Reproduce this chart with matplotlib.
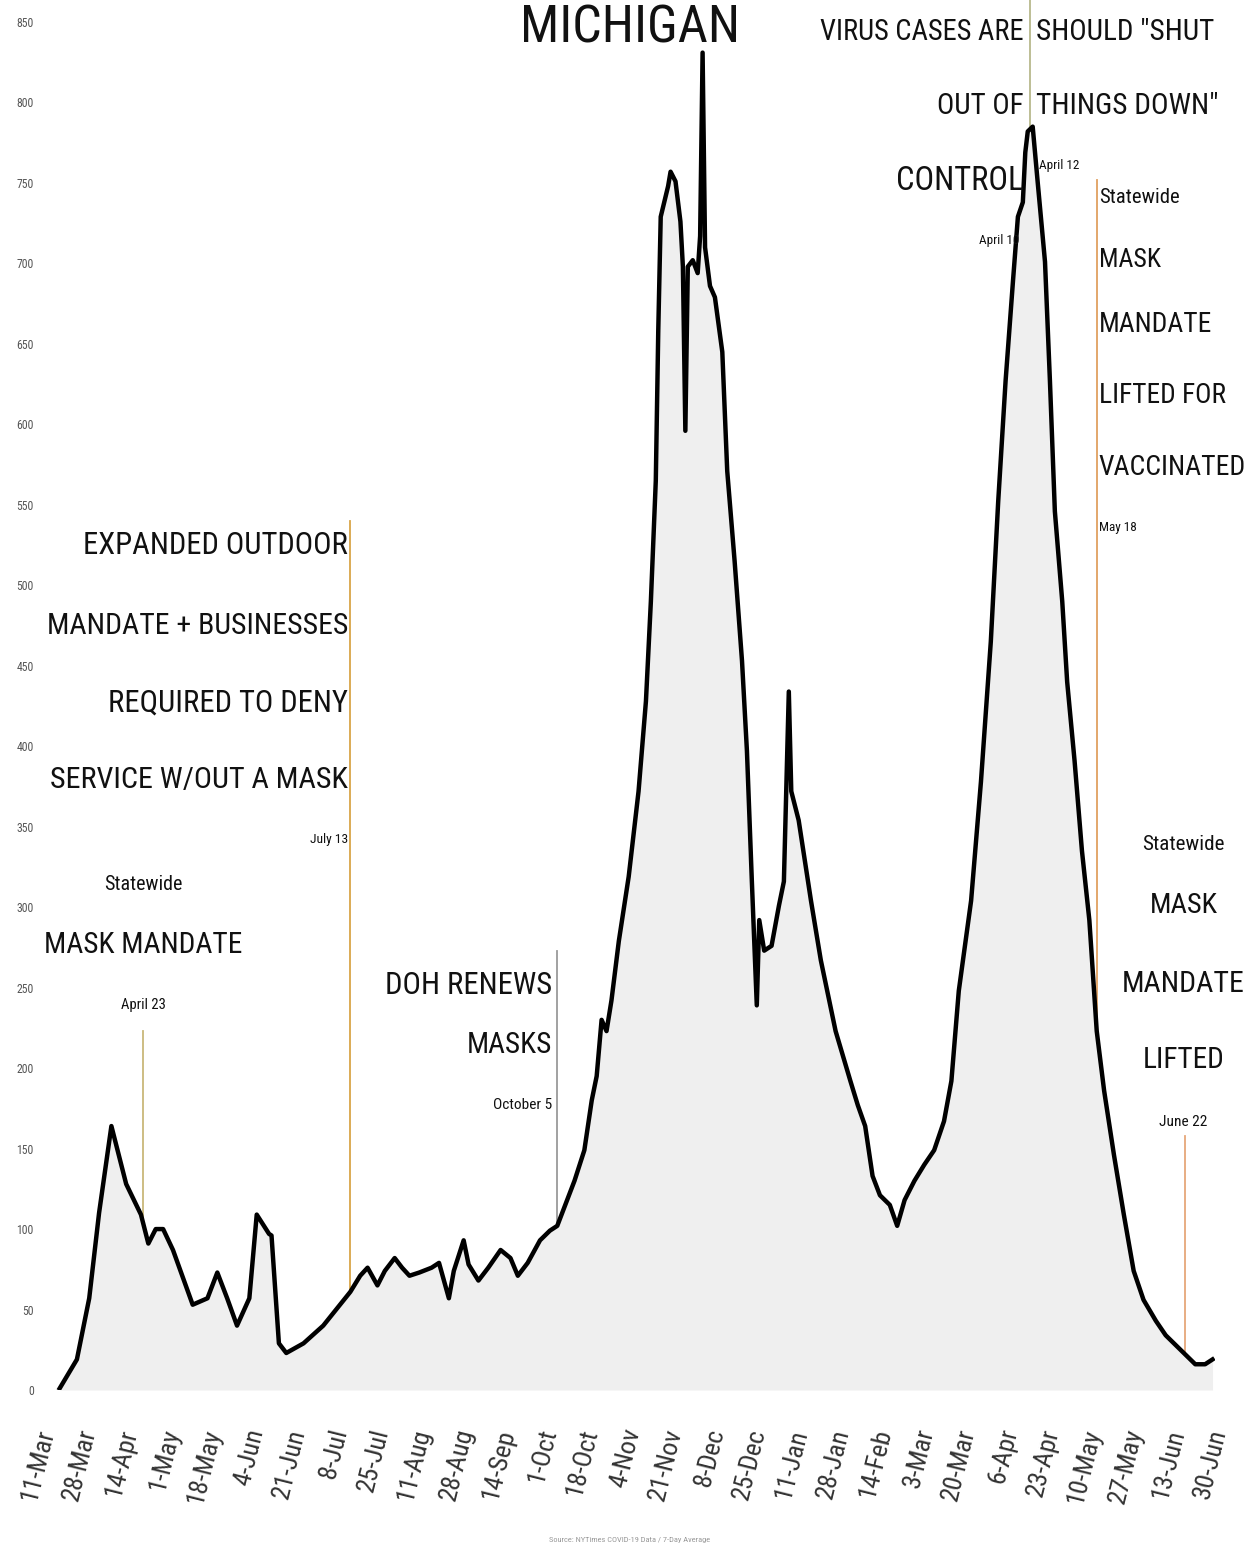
import numpy as np
import pandas as pd
import matplotlib
matplotlib.use('Agg')
import matplotlib.pyplot as plt
import matplotlib.dates as mdates
from matplotlib.transforms import offset_copy

plt.rcParams['font.family'] = ['Roboto Condensed', 'Liberation Sans', 'DejaVu Sans']

# daily cases (7-day average, per day)
dates = [
    '2020-03-21', '2020-03-28', '2020-04-02', '2020-04-06', '2020-04-11', '2020-04-17', '2020-04-23', '2020-04-26', '2020-04-29', '2020-05-02',
    '2020-05-06', '2020-05-14', '2020-05-20', '2020-05-24', '2020-05-28', '2020-06-01', '2020-06-06', '2020-06-09', '2020-06-14', '2020-06-15',
    '2020-06-18', '2020-06-21', '2020-06-28', '2020-07-06', '2020-07-17', '2020-07-21', '2020-07-24', '2020-07-28', '2020-07-31', '2020-08-04',
    '2020-08-07', '2020-08-10', '2020-08-14', '2020-08-19', '2020-08-22', '2020-08-26', '2020-08-28', '2020-09-01', '2020-09-03', '2020-09-07',
    '2020-09-11', '2020-09-16', '2020-09-20', '2020-09-23', '2020-09-27', '2020-10-02', '2020-10-06', '2020-10-09', '2020-10-16', '2020-10-20',
    '2020-10-23', '2020-10-25', '2020-10-27', '2020-10-29', '2020-10-31', '2020-11-03', '2020-11-07', '2020-11-11', '2020-11-14', '2020-11-16',
    '2020-11-18', '2020-11-19', '2020-11-20', '2020-11-23', '2020-11-24', '2020-11-26', '2020-11-28', '2020-11-29', '2020-11-30', '2020-12-01',
    '2020-12-03', '2020-12-05', '2020-12-06', '2020-12-07', '2020-12-08', '2020-12-10', '2020-12-12', '2020-12-15', '2020-12-17', '2020-12-20',
    '2020-12-23', '2020-12-25', '2020-12-27', '2020-12-29', '2020-12-30', '2021-01-01', '2021-01-04', '2021-01-07', '2021-01-09', '2021-01-11',
    '2021-01-12', '2021-01-15', '2021-01-20', '2021-01-24', '2021-01-30', '2021-02-05', '2021-02-08', '2021-02-11', '2021-02-14', '2021-02-17',
    '2021-02-21', '2021-02-24', '2021-02-27', '2021-03-03', '2021-03-07', '2021-03-11', '2021-03-15', '2021-03-18', '2021-03-21', '2021-03-26',
    '2021-03-30', '2021-04-03', '2021-04-06', '2021-04-09', '2021-04-12', '2021-04-14', '2021-04-16', '2021-04-17', '2021-04-18', '2021-04-20',
    '2021-04-22', '2021-04-25', '2021-04-27', '2021-04-29', '2021-05-02', '2021-05-04', '2021-05-07', '2021-05-10', '2021-05-13', '2021-05-16',
    '2021-05-19', '2021-05-23', '2021-05-27', '2021-05-31', '2021-06-04', '2021-06-09', '2021-06-13', '2021-06-17', '2021-06-21', '2021-06-25',
    '2021-06-29', '2021-07-02',
]
cases = [
    1, 19, 57, 110, 164, 128, 109, 91, 100, 100,
    87, 53, 57, 73, 57, 40, 57, 109, 97, 96,
    29, 23, 29, 40, 61, 71, 76, 65, 74, 82,
    76, 71, 73, 76, 79, 57, 74, 93, 78, 68,
    76, 87, 82, 71, 79, 93, 99, 102, 130, 149,
    180, 195, 230, 223, 242, 279, 319, 372, 428, 490,
    565, 658, 729, 748, 757, 751, 726, 698, 596, 698,
    702, 694, 717, 831, 710, 686, 679, 645, 571, 515,
    453, 397, 316, 239, 292, 273, 276, 301, 316, 434,
    372, 354, 304, 267, 223, 192, 177, 164, 133, 121,
    115, 102, 118, 130, 140, 149, 167, 192, 248, 304,
    378, 465, 552, 627, 689, 729, 738, 769, 782, 785,
    751, 701, 627, 546, 490, 440, 391, 335, 292, 223,
    186, 146, 109, 74, 56, 43, 34, 28, 22, 16,
    16, 19,
]

tick_dates = [
    '2020-03-11', '2020-03-28', '2020-04-14', '2020-05-01', '2020-05-18', '2020-06-04', '2020-06-21', '2020-07-08',
    '2020-07-25', '2020-08-11', '2020-08-28', '2020-09-14', '2020-10-01', '2020-10-18', '2020-11-04', '2020-11-21',
    '2020-12-08', '2020-12-25', '2021-01-11', '2021-01-28', '2021-02-14', '2021-03-03', '2021-03-20', '2021-04-06',
    '2021-04-23', '2021-05-10', '2021-05-27', '2021-06-13', '2021-06-30',
]
tick_labels = [
    '11-Mar', '28-Mar', '14-Apr', '1-May', '18-May', '4-Jun', '21-Jun', '8-Jul',
    '25-Jul', '11-Aug', '28-Aug', '14-Sep', '1-Oct', '18-Oct', '4-Nov', '21-Nov',
    '8-Dec', '25-Dec', '11-Jan', '28-Jan', '14-Feb', '3-Mar', '20-Mar', '6-Apr',
    '23-Apr', '10-May', '27-May', '13-Jun', '30-Jun',
]
y_ticks = [0, 50, 100, 150, 200, 250, 300, 350, 400, 450, 500, 550, 600, 650, 700, 750, 800, 850]

# where the event markers sit on the chart
event_dates = ['2020-04-24', '2020-07-17', '2020-10-09', '2021-04-19', '2021-05-16', '2021-06-21']

x = pd.to_datetime(dates)

fig = plt.figure(figsize=(12.51, 15.51), dpi=100)
ax = fig.add_axes([0.028, 0.1038, 0.9432, 0.882])

ax.fill_between(x, cases, color='#efefef', lw=0)
ax.plot(x, cases, color='black', lw=3.2)

ax.set_xlim(pd.Timestamp('2020-03-11'), pd.Timestamp('2021-07-03'))
ax.set_ylim(0, 850)
for s in ax.spines.values():
    s.set_visible(False)

ax.set_yticks(y_ticks)
ax.set_yticklabels([str(v) for v in y_ticks], fontsize=8.5, color='#555555')
ax.set_xticks(pd.to_datetime(tick_dates))
ax.set_xticklabels(tick_labels, rotation=76, ha='right', rotation_mode='anchor',
                   fontsize=19, color='#333333')
ax.tick_params(axis='x', length=0, pad=26)
ax.tick_params(axis='y', length=0, pad=1)

# event lines, from a fixed top down to the curve
xnum = mdates.date2num(x)
line_tops = [223, 540, 273, 870, 752, 158]
line_colors = ['#c9b77a', '#d9a548', '#9a9a9a', '#b7b98c', '#e0a060', '#e6a77a']
for d, top, c in zip(event_dates, line_tops, line_colors):
    xd = mdates.date2num(pd.Timestamp(d))
    bottom = np.interp(xd, xnum, cases)
    ax.plot([xd, xd], [bottom, top], color=c, lw=1.3, clip_on=False, zorder=1)

fitted = []


def block(d, rows, ha, dx):
    # rows: (text, y value, width in pixels on the picture)
    tr = offset_copy(ax.transData, fig=fig, x=dx, y=0, units='dots')
    xd = pd.Timestamp(d)
    for s, yv, w in rows:
        t = ax.text(xd, yv, s, ha=ha, va='center', fontsize=20, color='#111111',
                    transform=tr, clip_on=False)
        fitted.append((t, w))


block(event_dates[0], [('Statewide', 314, 78), ('MASK MANDATE', 276.5, 198),
                       ('April 23', 239, 45)], 'center', 0)
block(event_dates[1], [('EXPANDED OUTDOOR', 525, 265), ('MANDATE + BUSINESSES', 475, 300),
                       ('REQUIRED TO DENY', 427, 240), ('SERVICE W/OUT A MASK', 379, 298),
                       ('July 13', 342, 38)], 'right', -2)
block(event_dates[2], [('DOH RENEWS', 251.6, 167), ('MASKS', 214.4, 85),
                       ('October 5', 177, 59)], 'right', -5)
block(event_dates[3], [('VIRUS CASES ARE', 844, 204), ('OUT OF', 798, 87),
                       ('CONTROL', 751, 128)], 'right', -7)
block(event_dates[3], [('April 10', 714.5, 40)], 'center', -31)
block(event_dates[3], [('SHOULD "SHUT', 844, 178), ('THINGS DOWN"', 798, 183)], 'left', 6)
block(event_dates[3], [('April 12', 761, 40)], 'left', 9)
block(event_dates[4], [('Statewide', 741, 80), ('MASK', 702, 62), ('MANDATE', 662, 113),
                       ('LIFTED FOR', 618, 127), ('VACCINATED', 573, 147),
                       ('May 18', 536, 38)], 'left', 2)
block(event_dates[5], [('Statewide', 339, 82), ('MASK', 301, 68), ('MANDATE', 252, 123),
                       ('LIFTED', 205, 82), ('June 22', 166.5, 48)], 'center', -2)

title = fig.text(0.5036, 0.9729, 'MICHIGAN', ha='center', va='baseline', fontsize=36, color='#111111')
fitted.append((title, 220))
fig.text(0.5036, 0.0071, 'Source: NYTimes COVID-19 Data / 7-Day Average', ha='center',
         va='center', fontsize=6, color='#999999')

# scale each label so its width matches the reference
renderer = fig.canvas.get_renderer()
for t, w in fitted:
    bb = t.get_window_extent(renderer)
    t.set_fontsize(t.get_fontsize() * w / bb.width)

fig.savefig('out.png', dpi=100)
